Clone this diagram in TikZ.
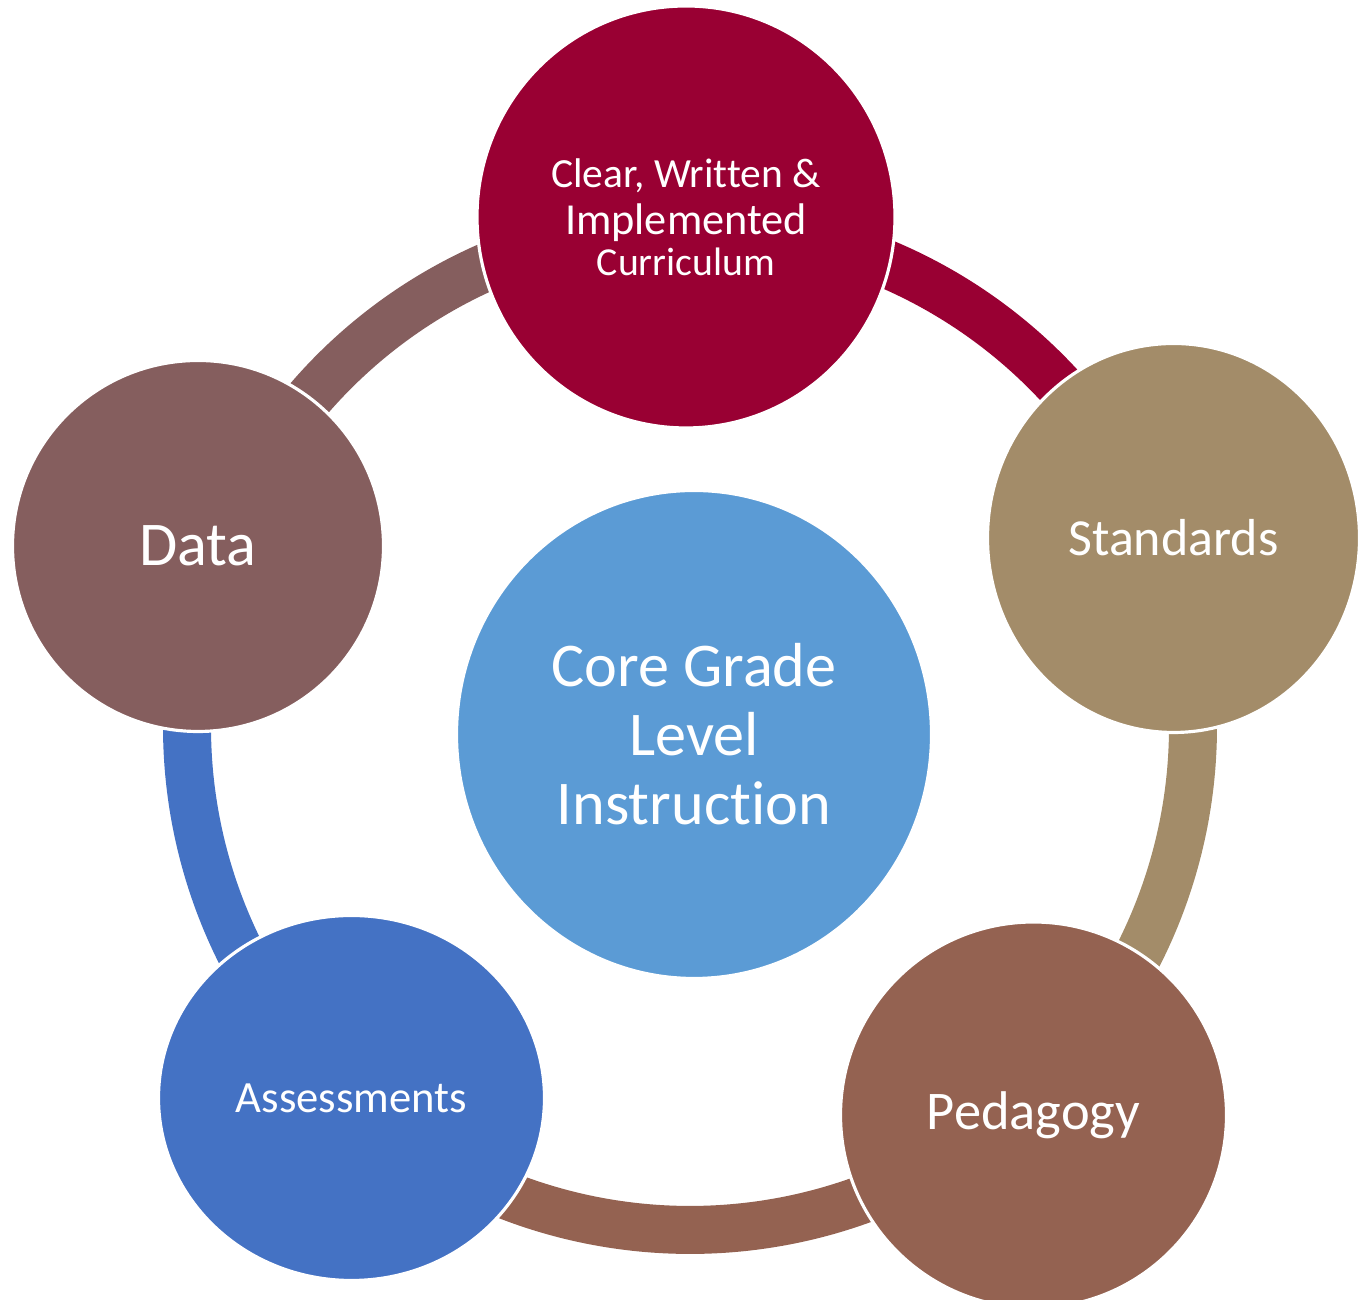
\documentclass[tikz,border=0pt]{standalone}
\usepackage{fontspec}
\setmainfont[Ligatures={NoCommon,NoContextual}]{Carlito}
\usetikzlibrary{shapes.geometric}

\definecolor{curcol}{HTML}{990033}
\definecolor{stdcol}{HTML}{A38C69}
\definecolor{pedcol}{HTML}{946251}
\definecolor{asscol}{HTML}{4472C4}
\definecolor{datcol}{HTML}{855E5E}
\definecolor{corecol}{HTML}{5B9BD5}

\begin{document}
\begin{tikzpicture}
		[bubble/.style={ellipse,draw=white,line width=0.9pt,inner sep=0pt,text=white,align=center},
		 link/.style={line width=0.48cm}]
		\useasboundingbox (0,0) rectangle (13.66,13.00);

		% points on the ring, one under each circle
		\coordinate (ring) at (6.90,5.73);
		\path (ring) ++(90.4:5.03) coordinate (r1);
		\path (ring) ++(21.35:5.03) coordinate (r2);
		\path (ring) ++(-48.5:5.03) coordinate (r3);
		\path (ring) ++(227.6:5.03) coordinate (r4);
		\path (ring) ++(159.8:5.03) coordinate (r5);

		% draw the ring, one piece per circle
		\draw [link,curcol] (r1) arc[start angle=90.4,end angle=21.35,radius=5.03];
		\draw [link,stdcol] (r2) arc[start angle=21.35,end angle=-48.5,radius=5.03];
		\draw [link,pedcol] (r3) arc[start angle=-48.5,end angle=-132.4,radius=5.03];
		\draw [link,asscol] (r4) arc[start angle=227.6,end angle=159.8,radius=5.03];
		\draw [link,datcol] (r5) arc[start angle=159.8,end angle=90.4,radius=5.03];

		% draw the circles
		\node [bubble,fill=curcol,minimum width=4.18cm,minimum height=4.22cm,
			font=\fontsize{12}{12}\selectfont] (curric) at (6.86,10.83)
			{{\fontsize{11.8}{12}\selectfont Clear, Written \&}\\[1.4pt]
			 {\fontsize{12.6}{12}\selectfont Implemented}\\[-0.3pt]
			 {\fontsize{11.3}{12}\selectfont Curriculum}};
		\node [bubble,fill=stdcol,minimum width=3.72cm,minimum height=3.89cm,
			font=\fontsize{14.8}{17}\selectfont] (standards) at (11.735,7.62) {Standards};
		\node [bubble,fill=pedcol,minimum width=3.86cm,minimum height=3.86cm,
			font=\fontsize{15.5}{18}\selectfont] (pedagogy) at (10.335,1.85) {Pedagogy};
		\node [bubble,fill=asscol,minimum width=3.86cm,minimum height=3.65cm,
			font=\fontsize{12.7}{15}\selectfont] (assess) at (3.515,2.02) {Assessments};
		\node [bubble,fill=datcol,minimum width=3.71cm,minimum height=3.71cm,
			font=\fontsize{17.7}{20}\selectfont] (data) at (1.98,7.54) {Data};

		% the middle circle
		\node [bubble,fill=corecol,minimum width=4.75cm,minimum height=4.88cm,
			font=\fontsize{17.7}{19.6}\selectfont] (core) at (6.94,5.655)
			{Core Grade\\Level\\Instruction};
	\end{tikzpicture}
\end{document}
